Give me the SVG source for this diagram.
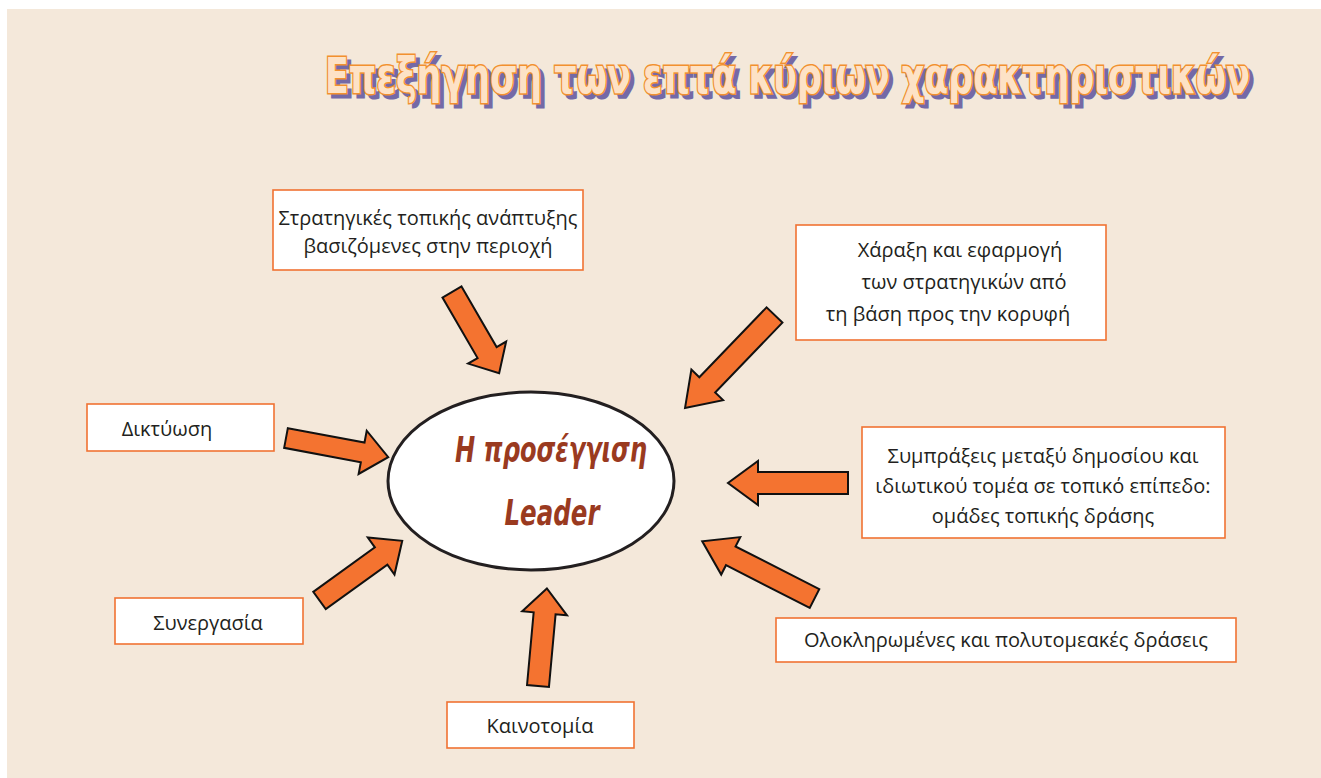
<svg xmlns="http://www.w3.org/2000/svg" width="1321" height="778" viewBox="0 0 1321 778">
<style>
.box{fill:#ffffff;stroke:#f07232;stroke-width:1.6}
.lbl{font-family:"Open Sans","Noto Sans",sans-serif;font-size:20px;fill:#231f20;text-anchor:middle}
.arr{fill:#f47330;stroke:#111111;stroke-width:2;stroke-linejoin:miter}
.title{font-family:"DejaVu Sans Condensed","DejaVu Sans",sans-serif;font-weight:bold;font-size:50px}
.center{font-family:"DejaVu Sans Condensed","DejaVu Sans",sans-serif;font-weight:bold;font-style:italic;font-size:35px;fill:#9a3a1f;text-anchor:middle}
</style>
<rect x="0" y="0" width="1321" height="778" fill="#ffffff"/>
<rect x="7" y="9" width="1314" height="769" fill="#f4e8da"/>

<g id="title">
<text class="title" x="329" y="97" textLength="925" lengthAdjust="spacingAndGlyphs" fill="#4a3f95" stroke="#4a3f95" stroke-width="3" opacity="0.75">Επεξήγηση των επτά κύριων χαρακτηριστικών</text>
<text class="title" x="325" y="93" textLength="925" lengthAdjust="spacingAndGlyphs" fill="#fde2c6" stroke="#f2902f" stroke-width="3" paint-order="stroke">Επεξήγηση των επτά κύριων χαρακτηριστικών</text>
</g>

<g id="connectors">
<polygon class="arr" transform="translate(452,292) rotate(59.9)" points="0,-11 70,-11 70,-22 94,0 70,22 70,11 0,11"/>
<polygon class="arr" transform="translate(286,438) rotate(10.6)" points="0,-10 78,-10 78,-22 104,0 78,22 78,10 0,10"/>
<polygon class="arr" transform="translate(774.5,315) rotate(133.9)" points="0,-11 97,-11 97,-22 129,0 97,22 97,11 0,11"/>
<polygon class="arr" transform="translate(848,483) rotate(180)" points="0,-11 90,-11 90,-22 120,0 90,22 90,11 0,11"/>
<polygon class="arr" transform="translate(814.5,598.5) rotate(207)" points="0,-10.5 94,-10.5 94,-21 126,0 94,21 94,10.5 0,10.5"/>
<polygon class="arr" transform="translate(538,686) rotate(-84.8)" points="0,-11 73,-11 73,-22.5 98,0 73,22.5 73,11 0,11"/>
<polygon class="arr" transform="translate(319.5,600.5) rotate(-35.8)" points="0,-10.7 76,-10.7 76,-22.8 102,0 76,22.8 76,10.7 0,10.7"/>
</g>

<g id="node-center">
<ellipse cx="531" cy="481" rx="143" ry="89" fill="#ffffff" stroke="#231f20" stroke-width="3"/>
<text class="center" x="551" y="462" textLength="192" lengthAdjust="spacingAndGlyphs">Η προσέγγιση</text>
<text class="center" x="552" y="525" textLength="95" lengthAdjust="spacingAndGlyphs">Leader</text>
</g>

<g id="node-strategies">
<rect class="box" x="273" y="190" width="310" height="80"/>
<text class="lbl" x="428" y="225">Στρατηγικές τοπικής ανάπτυξης</text>
<text class="lbl" x="428" y="253">βασιζόμενες στην περιοχή</text>
</g>

<g id="node-bottomup">
<rect class="box" x="796" y="225" width="310" height="115"/>
<text class="lbl" x="960" y="257">Χάραξη και εφαρμογή</text>
<text class="lbl" x="964" y="289">των στρατηγικών από</text>
<text class="lbl" x="948" y="321">τη βάση προς την κορυφή</text>
</g>

<g id="node-partnerships">
<rect class="box" x="862" y="427" width="363" height="111"/>
<text class="lbl" x="1043" y="463">Συμπράξεις μεταξύ δημοσίου και</text>
<text class="lbl" x="1043" y="493">ιδιωτικού τομέα σε τοπικό επίπεδο:</text>
<text class="lbl" x="1043" y="523">ομάδες τοπικής δράσης</text>
</g>

<g id="node-integrated">
<rect class="box" x="776" y="618" width="460" height="44"/>
<text class="lbl" x="1006" y="647">Ολοκληρωμένες και πολυτομεακές δράσεις</text>
</g>

<g id="node-innovation">
<rect class="box" x="447" y="702" width="187" height="46"/>
<text class="lbl" x="540" y="733">Καινοτομία</text>
</g>

<g id="node-cooperation">
<rect class="box" x="115" y="598" width="188" height="46"/>
<text class="lbl" x="208" y="630">Συνεργασία</text>
</g>

<g id="node-networking">
<rect class="box" x="87" y="404" width="187" height="47"/>
<text class="lbl" x="167" y="436">Δικτύωση</text>
</g>
</svg>
